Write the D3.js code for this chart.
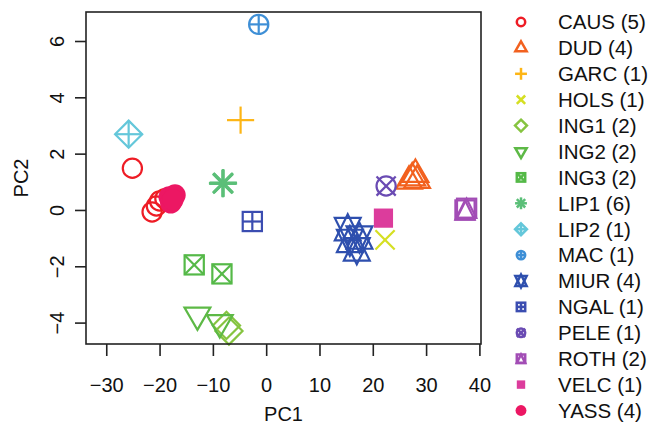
<!DOCTYPE html>
<html>
<head>
<meta charset="utf-8">
<script src="https://cdn.jsdelivr.net/npm/d3@7"></script>
<style>
  body { margin: 0; background: #fff; }
  text { font-family: "Liberation Sans", Arial, Helvetica, sans-serif; fill: #111; }
</style>
</head>
<body>
<svg id="chart" width="650" height="424"></svg>
<script>
// ---- Data ----
const groups  = ["CAUS","DUD","GARC","HOLS","ING1","ING2","ING3","LIP1","LIP2","MAC","MIUR","NGAL","PELE","ROTH","VELC","YASS"];
const counts  = [5,4,1,1,2,2,2,6,1,1,4,1,1,2,1,4];
const pchs    = [1,2,3,4,5,6,7,8,9,10,11,12,13,14,15,16];
const colors  = ["#EE1C25","#F2611F","#FDB515","#D5DF22","#86C440","#5DB946","#55B948","#5BBF78",
                 "#64C7DA","#3E8FD6","#2E4FAE","#3B4DB1","#6A4BB3","#A24DB5","#DC3C9C","#EC1763"];

const pointGroup = ["CAUS","CAUS","CAUS","CAUS","CAUS",
                    "YASS","YASS","YASS","YASS",
                    "DUD","DUD","DUD","DUD",
                    "GARC","HOLS",
                    "ING1","ING1","ING2","ING2","ING3","ING3",
                    "LIP1","LIP1","LIP1","LIP1","LIP1","LIP1",
                    "LIP2","MAC",
                    "MIUR","MIUR","MIUR","MIUR",
                    "NGAL","PELE","ROTH","ROTH","VELC"];
const pointX = [-25.1,-21.4,-20.6,-20.0,-19.0,
                -18.2,-17.1,-17.9,-17.5,
                26.8,27.4,28.0,28.3,
                -4.8,22.3,
                -7.45,-6.98,-12.9,-8.7,-13.5,-8.3,
                -8.1,-8.05,-8.15,-8.1,-8.0,-8.2,
                -25.8,-1.4,
                15.3,15.7,17.5,17.0,
                -2.6,22.5,37.3,37.6,22.0];
const pointY = [1.48,-0.07,0.14,0.32,0.40,
                0.46,0.53,0.25,0.36,
                1.02,1.14,1.26,1.05,
                3.19,-1.06,
                -4.10,-4.30,-3.73,-4.00,-1.95,-2.27,
                0.95,0.97,0.93,0.96,0.94,0.95,
                2.69,6.59,
                -0.68,-1.10,-0.98,-1.40,
                -0.41,0.85,0.00,0.06,-0.29];

const xTicks = [-30,-20,-10,0,10,20,30,40];
const yTicks = [-4,-2,0,2,4,6];
const xLabel = "PC1", yLabel = "PC2";

// ---- Layout ----
const svg = d3.select("#chart");
const plot = {left: 86, right: 481, top: 12, bottom: 344};
const x = d3.scaleLinear().domain([-33.8, 40.3]).range([plot.left, plot.right]);
const y = d3.scaleLinear().domain([-4.76, 7.03]).range([plot.bottom, plot.top]);
const fmt = d => (d < 0 ? "\u2212" + Math.abs(d) : String(d));

// symbol drawer (R pch style)
function drawSymbol(g, pch, b, color, sw) {
  const S = g.append("g").attr("fill", "none").attr("stroke", color).attr("stroke-width", sw);
  const line = (x1,y1,x2,y2) => S.append("line").attr("x1",x1).attr("y1",y1).attr("x2",x2).attr("y2",y2);
  const poly = (pts, fill) => S.append("polygon").attr("points", pts.map(p => p.join(",")).join(" ")).attr("fill", fill || "none");
  const TRC0 = Math.sqrt(4*Math.PI/(3*Math.sqrt(3))), TRC1 = TRC0*Math.sqrt(3)/2, TRC2 = TRC0/2;
  const r2 = Math.SQRT2 * b;
  switch (pch) {
    case 1: S.append("circle").attr("r", b); break;
    case 2: poly([[0,-TRC0*b],[TRC1*b,TRC2*b],[-TRC1*b,TRC2*b]]); break;
    case 3: line(-r2,0,r2,0); line(0,-r2,0,r2); break;
    case 4: line(-b,-b,b,b); line(-b,b,b,-b); break;
    case 5: poly([[0,-r2],[r2,0],[0,r2],[-r2,0]]); break;
    case 6: poly([[0,TRC0*b],[TRC1*b,-TRC2*b],[-TRC1*b,-TRC2*b]]); break;
    case 7: S.append("rect").attr("x",-b).attr("y",-b).attr("width",2*b).attr("height",2*b);
            line(-b,-b,b,b); line(-b,b,b,-b); break;
    case 8: line(-b,-b,b,b); line(-b,b,b,-b); line(-r2,0,r2,0); line(0,-r2,0,r2); break;
    case 9: poly([[0,-r2],[r2,0],[0,r2],[-r2,0]]); line(-r2,0,r2,0); line(0,-r2,0,r2); break;
    case 10: S.append("circle").attr("r", b); line(-b,0,b,0); line(0,-b,0,b); break;
    case 11: {
      const r = TRC0*b; let yc = TRC2*b; yc = 0.5*(yc + r); const xc = TRC1*b;
      poly([[0,r],[xc,-yc],[-xc,-yc]]); poly([[0,-r],[xc,yc],[-xc,yc]]); break;
    }
    case 12: S.append("rect").attr("x",-b).attr("y",-b).attr("width",2*b).attr("height",2*b);
             line(-b,0,b,0); line(0,-b,0,b); break;
    case 13: S.append("circle").attr("r", b); line(-b,-b,b,b); line(-b,b,b,-b); break;
    case 14: S.append("rect").attr("x",-b).attr("y",-b).attr("width",2*b).attr("height",2*b);
             poly([[0,-b],[b,b],[-b,b]]); break;
    case 15: S.append("rect").attr("x",-b).attr("y",-b).attr("width",2*b).attr("height",2*b)
              .attr("fill", color).attr("stroke","none"); break;
    case 16: S.append("circle").attr("r", b + sw/2).attr("fill", color).attr("stroke","none"); break;
  }
}

// ---- Points ----
const pts = svg.append("g");
pointGroup.forEach((grp, i) => {
  const k = groups.indexOf(grp);
  const g = pts.append("g").attr("transform", `translate(${x(pointX[i])},${y(pointY[i])})`);
  drawSymbol(g, pchs[k], 9.6, colors[k], 2.2);
});

// ---- Box ----
svg.append("rect").attr("x", plot.left).attr("y", plot.top)
  .attr("width", plot.right - plot.left).attr("height", plot.bottom - plot.top)
  .attr("fill", "none").attr("stroke", "#222").attr("stroke-width", 1.6);

// ---- Axes ----
const xAxis = svg.append("g").attr("transform", `translate(0,${plot.bottom})`)
  .call(d3.axisBottom(x).tickValues(xTicks).tickSize(12).tickFormat(fmt));
const yAxis = svg.append("g").attr("transform", `translate(${plot.left},0)`)
  .call(d3.axisLeft(y).tickValues(yTicks).tickSize(11).tickFormat(fmt));
[xAxis, yAxis].forEach(a => {
  a.select(".domain").remove();
  a.selectAll(".tick line").attr("stroke", "#222").attr("stroke-width", 1.6);
  a.selectAll(".tick text").attr("font-size", 20).attr("fill", "#111")
    .attr("font-family", "'Liberation Sans', Arial, sans-serif");
});
xAxis.selectAll(".tick text").attr("dy", null).attr("y", 48);
yAxis.selectAll(".tick text")
  .attr("x", null).attr("dy", null)
  .attr("text-anchor", "middle")
  .attr("transform", "translate(-29,0) rotate(-90)")
  .attr("y", 0).attr("dy", "0.35em");

svg.append("text").attr("x", (plot.left + plot.right)/2).attr("y", 421)
  .attr("text-anchor", "middle").attr("font-size", 20).text(xLabel);
svg.append("text").attr("transform", `translate(28,${(plot.top + plot.bottom)/2}) rotate(-90)`)
  .attr("text-anchor", "middle").attr("font-size", 20).text(yLabel);

// ---- Legend ----
const leg = svg.append("g");
groups.forEach((grp, k) => {
  const cy = 22 + k * 25.9;
  const g = leg.append("g").attr("transform", `translate(521,${cy})`);
  drawSymbol(g, pchs[k], 4.2, colors[k], 2.5);
  leg.append("text").attr("x", 558).attr("y", cy).attr("dy", "0.36em")
    .attr("font-size", 20.5).text(`${grp} (${counts[k]})`);
});
</script>
</body>
</html>
